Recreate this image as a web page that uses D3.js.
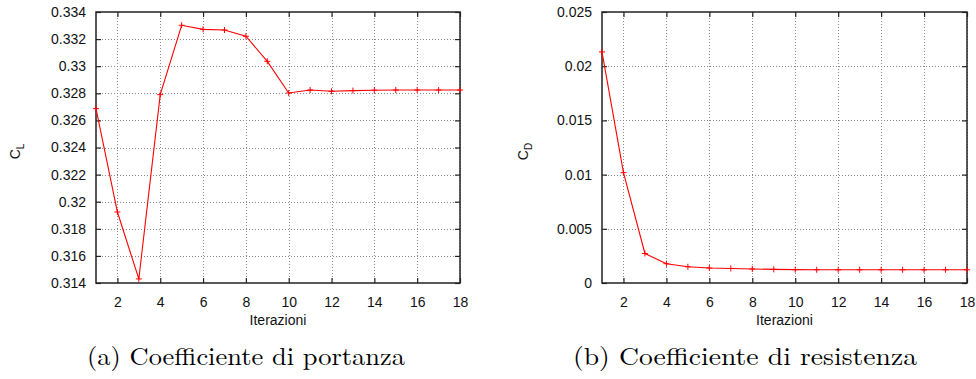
<!DOCTYPE html>
<html>
<head>
<meta charset="utf-8">
<script src="https://cdn.jsdelivr.net/npm/d3@7"></script>
<style>
  html, body { margin: 0; padding: 0; background: #fff; }
  svg { display: block; }
</style>
</head>
<body>
<svg id="fig" width="976" height="379"></svg>
<script>
// Iteration index shared by both panels
const iterations = [1, 2, 3, 4, 5, 6, 7, 8, 9, 10, 11, 12, 13, 14, 15, 16, 17, 18];

// Lift coefficient per iteration
const clValues = [0.32687, 0.31924, 0.31430, 0.32790, 0.33302, 0.33272, 0.33267, 0.33221, 0.33036,
                  0.32802, 0.32824, 0.32815, 0.32820, 0.32823, 0.32824, 0.32824, 0.32824, 0.32824];

// Drag coefficient per iteration
const cdValues = [0.02132, 0.01018, 0.00272, 0.00178, 0.00150, 0.00138, 0.00134, 0.00129, 0.00126,
                  0.00123, 0.00122, 0.00122, 0.00122, 0.00122, 0.00122, 0.00122, 0.00122, 0.00122];

// Tick values
const xTicks = [2, 4, 6, 8, 10, 12, 14, 16, 18];
const clTicks = [0.314, 0.316, 0.318, 0.32, 0.322, 0.324, 0.326, 0.328, 0.33, 0.332, 0.334];
const cdTicks = [0, 0.005, 0.01, 0.015, 0.02, 0.025];

const xTitle = "Iterazioni";
const captions = ["(a) Coefficiente di portanza", "(b) Coefficiente di resistenza"];

const svg = d3.select("#fig");
const sans = "'Liberation Sans', Arial, Helvetica, sans-serif";
const serif = "'Latin Modern Roman', serif";

function panel(opts) {
  const { left, right, top, bottom, values, yTicks, yDomain, sub, labelX, caption, captionX, captionW } = opts;
  const g = svg.append("g");

  const x = d3.scaleLinear().domain([1, 18]).range([left, right]);
  const y = d3.scaleLinear().domain(yDomain).range([bottom, top]);

  // dotted grid
  const grid = g.append("g").attr("stroke", "#8a8a8a").attr("stroke-width", 1)
    .attr("stroke-dasharray", "1,2");
  grid.selectAll("line.v").data(xTicks).join("line")
    .attr("x1", d => Math.round(x(d)) + 0.5).attr("x2", d => Math.round(x(d)) + 0.5)
    .attr("y1", top).attr("y2", bottom);
  grid.selectAll("line.h").data(yTicks.filter(d => d !== yDomain[0] && d !== yDomain[1])).join("line")
    .attr("y1", d => Math.round(y(d)) + 0.5).attr("y2", d => Math.round(y(d)) + 0.5)
    .attr("x1", left).attr("x2", right);

  // axes with inward ticks (mirrored on all four sides)
  const tl = 5;
  const axB = g.append("g").attr("transform", `translate(0,${bottom})`)
    .call(d3.axisBottom(x).tickValues(xTicks).tickSize(-tl).tickPadding(tl + 9).tickFormat(d => d));
  const axT = g.append("g").attr("transform", `translate(0,${top})`)
    .call(d3.axisTop(x).tickValues(xTicks).tickSize(-tl).tickFormat(""));
  const axL = g.append("g").attr("transform", `translate(${left},0)`)
    .call(d3.axisLeft(y).tickValues(yTicks).tickSize(-tl).tickPadding(tl + 5).tickFormat(d => String(d)));
  const axR = g.append("g").attr("transform", `translate(${right},0)`)
    .call(d3.axisRight(y).tickValues(yTicks).tickSize(-tl).tickFormat(""));
  [axB, axT, axL, axR].forEach(a => {
    a.select(".domain").remove();
    a.selectAll(".tick line").attr("stroke", "#222").attr("stroke-width", 1.2);
    a.selectAll("text").attr("font-family", sans).attr("font-size", 14).attr("fill", "#111");
  });

  // frame
  g.append("rect").attr("x", left).attr("y", top)
    .attr("width", right - left).attr("height", bottom - top)
    .attr("fill", "none").attr("stroke", "#222").attr("stroke-width", 1.5);

  // data line
  const pts = iterations.map((it, i) => [it, values[i]]);
  g.append("path").datum(pts)
    .attr("fill", "none").attr("stroke", "#ff0000").attr("stroke-width", 1.1)
    .attr("d", d3.line().x(d => x(d[0])).y(d => y(d[1])));

  // plus markers
  const m = 3;
  g.append("g").selectAll("path").data(pts).join("path")
    .attr("stroke", "#ff0000").attr("stroke-width", 1).attr("fill", "none")
    .attr("d", d => {
      const px = x(d[0]), py = y(d[1]);
      return `M${px - m},${py}H${px + m}M${px},${py - m}V${py + m}`;
    });

  // x title
  g.append("text").attr("x", (left + right) / 2).attr("y", bottom + 42)
    .attr("text-anchor", "middle").attr("font-family", sans).attr("font-size", 14)
    .attr("fill", "#111").text(xTitle);

  // y title with subscript
  const yt = g.append("text")
    .attr("transform", `translate(${labelX},${(top + bottom) / 2 + 4}) rotate(-90)`)
    .attr("text-anchor", "middle").attr("font-family", sans).attr("font-size", 14).attr("fill", "#111");
  yt.append("tspan").text("C");
  yt.append("tspan").attr("font-size", 10).attr("dy", 4).text(sub);

  // caption
  svg.append("text").attr("x", captionX).attr("y", 365)
    .attr("font-family", serif).attr("font-size", 25).attr("fill", "#000")
    .attr("textLength", captionW).attr("lengthAdjust", "spacingAndGlyphs")
    .text(caption);
}

panel({ left: 96, right: 460, top: 12, bottom: 283, values: clValues, yTicks: clTicks,
        yDomain: [0.314, 0.334], sub: "L", labelX: 20, caption: captions[0], captionX: 87, captionW: 318 });
panel({ left: 602, right: 967, top: 12, bottom: 283, values: cdValues, yTicks: cdTicks,
        yDomain: [0, 0.025], sub: "D", labelX: 528, caption: captions[1], captionX: 573, captionW: 344 });
</script>
</body>
</html>
